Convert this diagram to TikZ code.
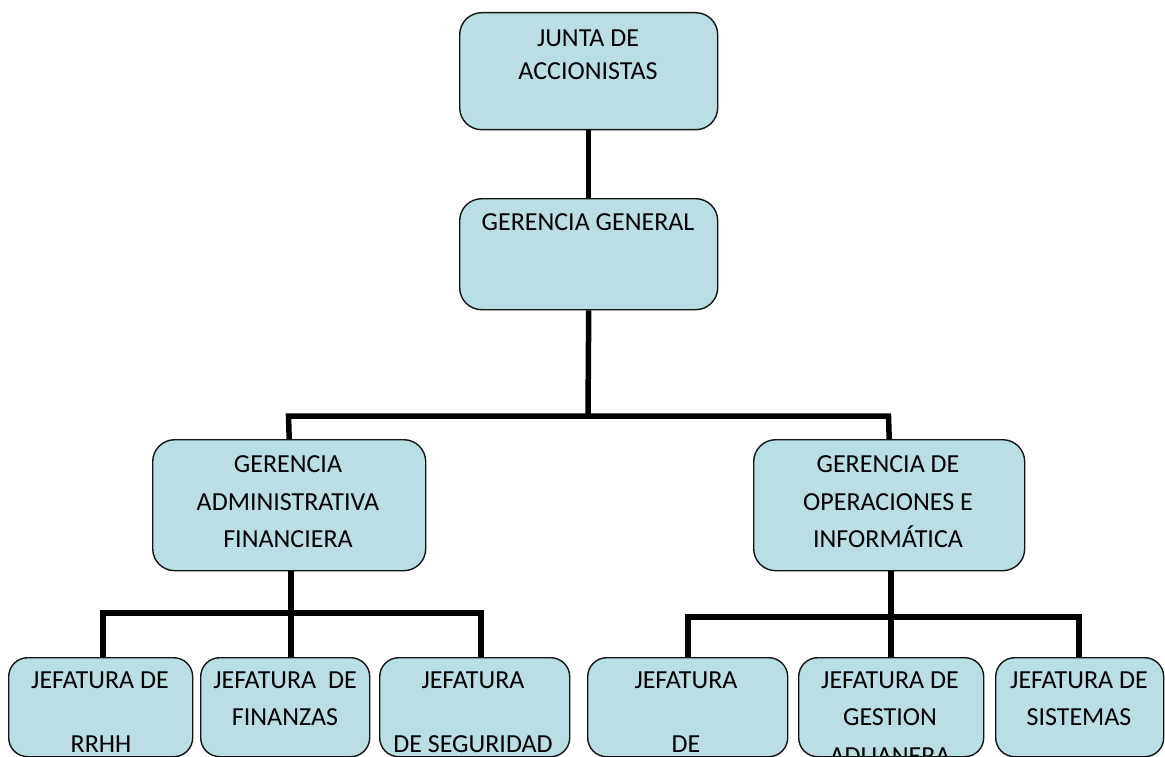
\documentclass[tikz,border=0pt]{standalone}
\usepackage{fontspec}
\setmainfont{Carlito}
\definecolor{boxfill}{RGB}{185,223,228}
\definecolor{boxline}{RGB}{20,20,20}
\begin{document}
\begin{tikzpicture}[x=1pt,y=-1pt,
  orgbox/.style={draw=boxline, line width=1.4pt, fill=boxfill, rounded corners=22pt,
    inner sep=0pt, anchor=north west},
  lowbox/.style={orgbox, rounded corners=19pt, minimum height=99pt},
  txt/.style={anchor=base, inner sep=0pt, font=\fontsize{26}{30}\selectfont, text=black},
  conn/.style={draw=black, line width=5.5pt, line join=miter, line cap=butt}]
\fill[white] (0,0) rectangle (1165,757);
\useasboundingbox (0,0) rectangle (1165,757);

% boxes
\node[orgbox, minimum width=258pt, minimum height=117pt] (junta) at (459,12) {};
\node[orgbox, minimum width=258pt, minimum height=111pt] (gg) at (459,198) {};
\node[orgbox, minimum width=273pt, minimum height=131pt] (gaf) at (152,439) {};
\node[orgbox, minimum width=271pt, minimum height=131pt] (goi) at (753,439) {};
\node[lowbox, minimum width=184pt] (r1) at (8,657) {};
\node[lowbox, minimum width=169pt] (r2) at (200,657) {};
\node[lowbox, minimum width=190pt] (r3) at (379,657) {};
\node[lowbox, minimum width=200pt] (r4) at (587,657) {};
\node[lowbox, minimum width=185pt] (r5) at (798,657) {};
\node[lowbox, minimum width=168pt] (r6) at (995,657) {};

% texts
\node[txt] (tj1) at (588,47) {JUNTA DE};
\node[txt] (tj2) at (588,80) {ACCIONISTAS};
\node[txt] (tg1) at (588,230) {GERENCIA GENERAL};
\node[txt] (ta1) at (288,472) {GERENCIA};
\node[txt] (ta2) at (288,510) {ADMINISTRATIVA};
\node[txt] (ta3) at (288,547) {FINANCIERA};
\node[txt] (to1) at (888,472) {GERENCIA DE};
\node[txt] (to2) at (888,510) {OPERACIONES E};
\node[txt] (to3) at (888,547) {INFORMÁTICA};
\node[txt] (t11) at (100,688) {JEFATURA DE};
\node[txt] (t12) at (101,752) {RRHH};
\node[txt] (t21) at (285,688) {JEFATURA\ \ DE};
\node[txt] (t22) at (285,725) {FINANZAS};
\node[txt] (t31) at (473,688) {JEFATURA};
\node[txt] (t32) at (473,752) {DE SEGURIDAD};
\node[txt] (t41) at (686,688) {JEFATURA};
\node[txt] (t42) at (686,752) {DE};
\node[txt] (t51) at (890,688) {JEFATURA DE};
\node[txt] (t52) at (890,725) {GESTION};
\begin{scope}
  \clip (r5.north west) rectangle ([yshift=1.5pt]r5.south east);
  \node[txt] (t53) at (890,764) {ADUANERA};
\end{scope}
\node[txt] (t61) at (1079,688) {JEFATURA DE};
\node[txt] (t62) at (1079,725) {SISTEMAS};

% connectors
\coordinate (busT) at (588,416);
\coordinate (busTL) at (288.5,416);
\coordinate (busTR) at (888.5,416);
\draw[conn] (junta.south) -- (gg.north);
\draw[conn] (gg.south) -- (busT);
\draw[conn] (gaf.north) -- (busTL) -- (busTR) -- (goi.north);

\coordinate (bL1) at (103,613);
\coordinate (bL2) at (291,613);
\coordinate (bL3) at (481,613);
\draw[conn] (bL1 |- r1.north) -- (bL1) -- (bL3) -- (bL3 |- r3.north);
\draw[conn] (bL2 |- gaf.south) -- (bL2 |- r2.north);

\coordinate (bR1) at (688,617);
\coordinate (bR2) at (891,617);
\coordinate (bR3) at (1079,617);
\draw[conn] (bR1 |- r4.north) -- (bR1) -- (bR3) -- (bR3 |- r6.north);
\draw[conn] (bR2 |- goi.south) -- (bR2 |- r5.north);
\end{tikzpicture}
\end{document}
